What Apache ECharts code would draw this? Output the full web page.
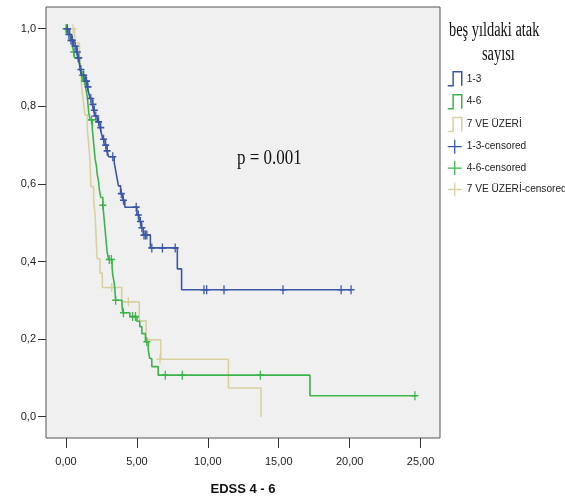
<!DOCTYPE html>
<html><head><meta charset="utf-8">
<script src="https://cdn.jsdelivr.net/npm/echarts@6/dist/echarts.min.js"></script>
<style>html,body{margin:0;padding:0;background:#fff}#c{width:565px;height:501px}</style>
</head><body><div id="c"></div>
<script>
// ---- data ----
const xTicks = [0, 5, 10, 15, 20, 25];
const yTicks = [0, 0.2, 0.4, 0.6, 0.8, 1.0];
const groupNames = ['1-3', '4-6', '7 VE ÜZERİ'];
const legendTitle = ['beş yıldaki atak', 'sayısı'];
const xAxisTitle = 'EDSS 4 - 6';
const pText = 'p = 0.001';

// group 1-3 : step times / survival
const g1T = [0, 0.25, 0.4, 0.55, 0.75, 0.85, 0.95, 1.0, 1.1, 1.35, 1.5, 1.6, 1.7, 1.85, 1.95, 2.05, 2.2, 2.4, 2.5, 2.6, 2.75, 2.9, 3.0, 3.4, 3.5, 3.6, 3.7, 3.85, 4.0, 4.15, 5.0, 5.15, 5.3, 5.45, 5.95, 7.85, 8.15, 20.1];
const g1S = [1.0, 0.985, 0.97, 0.955, 0.94, 0.925, 0.91, 0.895, 0.88, 0.865, 0.85, 0.835, 0.82, 0.805, 0.79, 0.775, 0.76, 0.745, 0.73, 0.715, 0.70, 0.685, 0.67, 0.655, 0.635, 0.615, 0.595, 0.575, 0.558, 0.54, 0.52, 0.503, 0.487, 0.468, 0.435, 0.381, 0.327, 0.327];
const g1CensT = [0.1, 0.2, 0.35, 0.45, 0.65, 0.8, 0.9, 1.05, 1.25, 1.45, 1.55, 1.75, 1.9, 2.0, 2.1, 2.3, 2.45, 2.65, 2.8, 2.9, 3.3, 3.9, 4.05, 4.95, 5.1, 5.25, 5.35, 5.5, 5.6, 5.7, 6.05, 6.8, 7.7, 9.73, 9.92, 11.14, 15.3, 19.4, 20.1];
const g1CensS = [1.0, 0.985, 0.97, 0.97, 0.955, 0.94, 0.925, 0.895, 0.88, 0.865, 0.85, 0.82, 0.805, 0.79, 0.775, 0.76, 0.745, 0.715, 0.70, 0.685, 0.67, 0.575, 0.558, 0.54, 0.52, 0.503, 0.487, 0.468, 0.468, 0.468, 0.435, 0.435, 0.435, 0.327, 0.327, 0.327, 0.327, 0.327, 0.327];

// group 4-6
const g2T = [0, 0.1, 0.3, 0.45, 0.55, 0.6, 0.95, 1.0, 1.1, 1.2, 1.4, 1.5, 1.55, 1.6, 1.7, 1.85, 1.9, 1.95, 2.0, 2.05, 2.15, 2.2, 2.3, 2.35, 2.45, 2.6, 2.65, 2.7, 2.75, 2.8, 2.85, 2.9, 3.0, 3.25, 3.3, 3.4, 3.45, 3.5, 3.95, 4.0, 4.5, 5.0, 5.2, 5.35, 5.6, 5.8, 5.9, 6.05, 6.5, 17.2, 24.6];
const g2S = [1.0, 0.985, 0.97, 0.955, 0.94, 0.925, 0.91, 0.895, 0.88, 0.865, 0.845, 0.825, 0.805, 0.785, 0.765, 0.745, 0.725, 0.705, 0.685, 0.665, 0.645, 0.625, 0.605, 0.585, 0.565, 0.545, 0.525, 0.505, 0.485, 0.465, 0.445, 0.425, 0.405, 0.385, 0.365, 0.345, 0.325, 0.30, 0.285, 0.268, 0.258, 0.246, 0.232, 0.214, 0.193, 0.172, 0.15, 0.129, 0.107, 0.054, 0.054];
const g2CensT = [0, 0.05, 0.55, 0.85, 1.15, 1.3, 1.8, 2.6, 3.05, 3.2, 3.5, 4.05, 4.7, 4.9, 5.7, 7.0, 8.2, 13.7, 24.6];
const g2CensS = [1.0, 1.0, 0.94, 0.925, 0.88, 0.865, 0.765, 0.545, 0.405, 0.405, 0.30, 0.268, 0.258, 0.258, 0.193, 0.107, 0.107, 0.107, 0.054];

// group 7 VE ÜZERİ
const g3T = [0, 0.6, 0.95, 1.05, 1.1, 1.22, 1.34, 1.5, 1.6, 1.68, 1.72, 1.76, 1.95, 2.05, 2.1, 2.15, 2.2, 2.4, 2.56, 3.93, 5.17, 5.65, 6.68, 11.45, 13.75];
const g3S = [1.0, 0.963, 0.926, 0.889, 0.852, 0.815, 0.778, 0.741, 0.704, 0.667, 0.63, 0.593, 0.556, 0.519, 0.481, 0.444, 0.407, 0.37, 0.333, 0.296, 0.247, 0.198, 0.148, 0.074, 0.0];
const g3CensT = [0.5, 3.22, 4.4, 6.63];
const g3CensS = [1.0, 0.333, 0.296, 0.148];

// ---- chart ----
const colors = ['#3B56A6', '#3CB44B', '#D9D0A2'];
const zip = (a, b) => a.map((v, i) => [v, b[i]]);
const plusPath = 'path://M4.1,0 H5.9 V4.1 H10 V5.9 H5.9 V10 H4.1 V5.9 H0 V4.1 H4.1 Z';
const plusThin = 'path://M4.55,0 H5.45 V4.55 H10 V5.45 H5.45 V10 H4.55 V5.45 H0 V4.55 H4.55 Z';
const stepPath = 'path://M0,14 L5,14 L5,1 L13,1 L13,14';
const curves = [[g1T, g1S], [g2T, g2S], [g3T, g3S]];
const cens = [[g1CensT, g1CensS], [g2CensT, g2CensS], [g3CensT, g3CensS]];
const zOrder = [5, 4, 3];

const series = [];
groupNames.forEach((n, i) => {
  series.push({
    name: n, type: 'line', step: 'end', symbol: 'none', z: zOrder[i],
    data: zip(curves[i][0], curves[i][1]),
    lineStyle: { color: colors[i], width: 1.6 }, itemStyle: { color: colors[i] },
    silent: true, animation: false
  });
});
groupNames.forEach((n, i) => {
  series.push({
    name: n + '-censored', type: 'scatter', symbol: plusPath, symbolSize: [7, 9], z: zOrder[i],
    data: zip(cens[i][0], cens[i][1]),
    itemStyle: { color: colors[i], opacity: 1 }, silent: true, animation: false
  });
});

const legendData = [];
groupNames.forEach((n, i) => legendData.push({ name: n, icon: stepPath,
  itemStyle: { color: 'rgba(0,0,0,0)', borderColor: colors[i], borderWidth: 1.5 } }));
groupNames.forEach((n, i) => legendData.push({ name: n + '-censored', icon: plusThin,
  itemStyle: { color: colors[i], borderWidth: 0 } }));

const fmtX = v => v.toFixed(2).replace('.', ',');
const fmtY = v => v.toFixed(1).replace('.', ',');

const chart = echarts.init(document.getElementById('c'), null, { renderer: 'canvas' });
chart.setOption({
  animation: false,
  backgroundColor: '#ffffff',
  grid: { left: 46, right: 125, top: 7, bottom: 63, show: true, backgroundColor: '#F0F0F0', borderColor: '#555', borderWidth: 1 },
  xAxis: {
    type: 'value', min: -1.41, max: 26.37,
    name: xAxisTitle, nameLocation: 'middle', nameGap: 45,
    nameTextStyle: { fontFamily: 'Liberation Sans', fontSize: 13, fontWeight: 'bold', color: '#111' },
    axisLine: { show: false, onZero: false }, splitLine: { show: false },
    axisTick: { show: true, inside: false, length: 10, customValues: xTicks, lineStyle: { color: '#333', width: 1 } },
    axisLabel: { customValues: xTicks, formatter: fmtX, margin: 18, fontSize: 11, color: '#222', fontFamily: 'Liberation Sans' }
  },
  yAxis: {
    type: 'value', min: -0.055, max: 1.056,
    axisLine: { show: false, onZero: false }, splitLine: { show: false },
    axisTick: { show: true, inside: false, length: 8, customValues: yTicks, lineStyle: { color: '#333', width: 1 } },
    axisLabel: { customValues: yTicks, formatter: fmtY, margin: 10, fontSize: 11, color: '#222', fontFamily: 'Liberation Sans' }
  },
  legend: {
    orient: 'vertical', left: 447, top: 71, padding: 0, itemWidth: 14, itemHeight: 14, itemGap: 7.4,
    textStyle: { fontFamily: 'Liberation Sans', fontSize: 10.1, color: '#222', width: 140, overflow: 'none' },
    data: legendData, selectedMode: false
  },
  graphic: [
    { type: 'text', left: 449, top: 21, style: { text: legendTitle[0], font: '20px "Liberation Serif"', fill: '#111' }, scaleX: 0.72 },
    { type: 'text', left: 482, top: 45, style: { text: legendTitle[1], font: '20px "Liberation Serif"', fill: '#111' }, scaleX: 0.72 },
    { type: 'text', left: 237, top: 149, style: { text: pText, font: '20px "Liberation Serif"', fill: '#111' }, scaleX: 0.85 }
  ],
  series: series
});
</script></body></html>
